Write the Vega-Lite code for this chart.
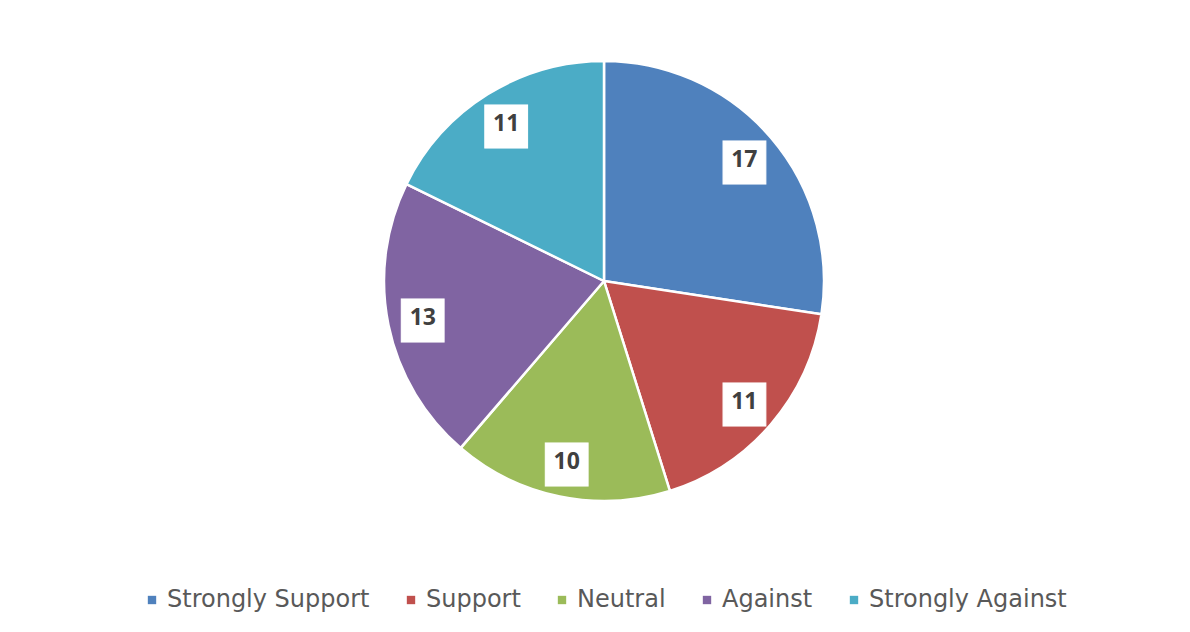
{
  "$schema": "https://vega.github.io/schema/vega-lite/v6.json",
  "width": 440,
  "height": 440,
  "autosize": {"type": "none"},
  "padding": {"left": 384, "top": 61, "right": 366, "bottom": 131},
  "background": "white",
  "config": {"view": {"stroke": null}},
  "data": {
    "values": [
      {"k": 1, "response": "Strongly Support", "count": 17},
      {"k": 2, "response": "Support", "count": 11},
      {"k": 3, "response": "Neutral", "count": 10},
      {"k": 4, "response": "Against", "count": 13},
      {"k": 5, "response": "Strongly Against", "count": 11}
    ]
  },
  "encoding": {
    "theta": {"field": "count", "type": "quantitative", "stack": true},
    "order": {"field": "k", "type": "quantitative"}
  },
  "layer": [
    {
      "mark": {"type": "arc", "stroke": "white", "strokeWidth": 2.5},
      "encoding": {
        "color": {
          "field": "response",
          "type": "nominal",
          "sort": ["Strongly Support", "Support", "Neutral", "Against", "Strongly Against"],
          "scale": {
            "domain": ["Strongly Support", "Support", "Neutral", "Against", "Strongly Against"],
            "range": ["#4F81BD", "#C0504D", "#9BBB59", "#8064A2", "#4BACC6"]
          },
          "legend": {
            "title": null,
            "orient": "none",
            "direction": "horizontal",
            "columns": 5,
            "legendX": -244,
            "legendY": 527,
            "padding": 0,
            "symbolType": "square",
            "symbolSize": 70,
            "symbolStrokeWidth": 0,
            "labelFont": "DejaVu Sans",
            "labelFontSize": 24,
            "labelColor": "#595959",
            "labelOffset": 3,
            "columnPadding": 29,
            "labelLimit": 400
          }
        }
      }
    },
    {
      "mark": {"type": "text", "text": "■", "radius": 185, "font": "DejaVu Sans", "fontSize": 56, "color": "white", "stroke": "white", "strokeWidth": 1, "baseline": "middle", "align": "center"}
    },
    {
      "mark": {"type": "text", "radius": 185, "font": "Open Sans", "fontSize": 23, "fontWeight": "bold", "color": "#404040", "baseline": "middle", "align": "center"},
      "encoding": {"text": {"field": "count", "type": "quantitative"}}
    }
  ]
}
